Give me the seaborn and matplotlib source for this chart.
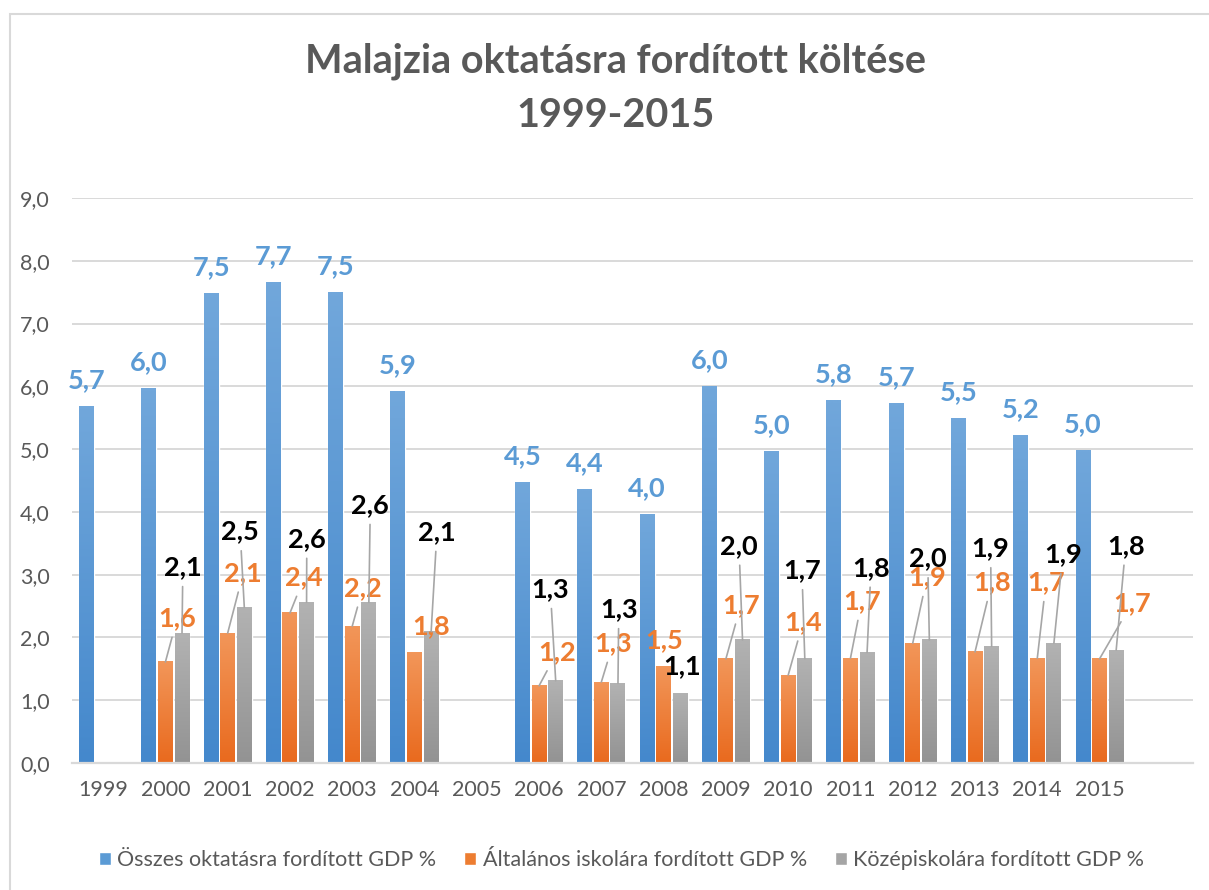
import numpy as np
import pandas as pd
import matplotlib
matplotlib.use('Agg')
import matplotlib.pyplot as plt
import seaborn as sns
from matplotlib.patches import Rectangle
from matplotlib.colors import to_rgb

# Data (GDP %)
years = ['1999', '2000', '2001', '2002', '2003', '2004', '2005', '2006', '2007',
         '2008', '2009', '2010', '2011', '2012', '2013', '2014', '2015']
osszes = [5.68, 5.97, 7.48, 7.66, 7.50, 5.92, np.nan, 4.47, 4.36, 3.96,
          5.99, 4.96, 5.78, 5.73, 5.48, 5.21, 4.97]
altalanos = [np.nan, 1.61, 2.07, 2.39, 2.18, 1.76, np.nan, 1.23, 1.29, 1.53,
             1.66, 1.40, 1.67, 1.91, 1.77, 1.67, 1.66]
kozep = [np.nan, 2.07, 2.48, 2.56, 2.56, 2.09, np.nan, 1.31, 1.27, 1.10,
         1.96, 1.66, 1.76, 1.96, 1.86, 1.91, 1.80]
series_names = ['Összes oktatásra fordított GDP %',
                'Általános iskolára fordított GDP %',
                'Középiskolára fordított GDP %']

# Where the moved data labels sit (x offset from category, y in data units)
alt_lab_dx = [None, .19, .25, .23, .17, .27, None, .29, .19, .01, .24, .24, .18, .23, .27, .14, .52]
alt_lab_y = [None, 2.31, 3.03, 2.96, 2.79, 2.18, None, 1.77, 1.91, 1.96, 2.52, 2.25, 2.58, 2.96, 2.88, 2.88, 2.55]
koz_lab_dx = [None, .28, .20, .27, .29, .36, None, .18, .28, .29, .21, .22, .33, .24, .25, .41, .42]
koz_lab_y = [None, 3.12, 3.69, 3.57, 4.11, 3.68, None, 2.77, 2.45, 1.54, 3.46, 3.07, 3.11, 3.26, 3.42, 3.33, 3.46]

colors = ['#5B9BD5', '#ED7D31', '#A5A5A5']
grad_top = ['#71A7DB', '#F29659', '#B2B2B2']
grad_bottom = ['#4488CC', '#E96A1E', '#939393']
text_gray = '#595959'
grid_gray = '#D9D9D9'

sns.set_theme(style='white')
plt.rcParams['font.family'] = ['Lato', 'DejaVu Sans']

df = pd.DataFrame({
    'ev': years * 3,
    'ertek': osszes + altalanos + kozep,
    'sorozat': [series_names[0]] * 17 + [series_names[1]] * 17 + [series_names[2]] * 17,
})
order = years + ['']

fig = plt.figure(figsize=(12.09, 8.90), dpi=100)
ax = fig.add_axes([72 / 1209, 1 - 763 / 890, (1193 - 72) / 1209, (763 - 198) / 890])

sns.barplot(data=df, x='ev', y='ertek', hue='sorozat', order=order,
            hue_order=series_names, palette=colors, saturation=1,
            width=0.8, gap=0.1, errorbar=None, ax=ax)

# vertical gradient fill on each bar, like the Excel style
for k, cont in enumerate(ax.containers):
    c1, c2 = np.array(to_rgb(grad_bottom[k])), np.array(to_rgb(grad_top[k]))
    t = np.linspace(0, 1, 64)[:, None]
    img = (c1 * (1 - t) + c2 * t)[:, None, :]
    for bar in cont:
        h = bar.get_height()
        if not np.isfinite(h) or h <= 0:
            continue
        x0 = bar.get_x()
        ax.imshow(img, extent=[x0, x0 + bar.get_width(), 0, h], origin='lower',
                  aspect='auto', zorder=bar.get_zorder() + 0.01, interpolation='bilinear')

ax.set_xlim(-0.5, 17.5)
ax.set_ylim(0, 9)
ax.set_yticks(np.arange(0, 10))
ax.set_yticklabels([f'{v:.1f}'.replace('.', ',') for v in np.arange(0, 10)])
ax.set_xlabel('')
ax.set_ylabel('')
ax.yaxis.grid(True, color=grid_gray, lw=1.4)
ax.set_axisbelow(True)
for s in ['left', 'right', 'top']:
    ax.spines[s].set_visible(False)
ax.spines['bottom'].set_color(grid_gray)
ax.spines['bottom'].set_linewidth(1.6)
ax.spines['bottom'].set_zorder(5)
ax.tick_params(axis='both', length=0, labelsize=15.5, labelcolor=text_gray)
ax.tick_params(axis='y', pad=16)
ax.tick_params(axis='x', pad=12)

fmt = lambda v: f'{v:.1f}'.replace('.', ',')
step = 0.8 / 3

# blue labels: default position above the bar
for i, v in enumerate(osszes):
    if np.isnan(v):
        continue
    ax.annotate(fmt(v), xy=(i - step, v), xytext=(0, 19), textcoords='offset points',
                ha='center', va='center', fontsize=19.5, fontweight='bold', color=colors[0])

# orange and gray labels, dragged with leader lines
for vals, dxs, ys, k, col in [(altalanos, alt_lab_dx, alt_lab_y, 0, colors[1]),
                              (kozep, koz_lab_dx, koz_lab_y, 1, 'black')]:
    for i, v in enumerate(vals):
        if np.isnan(v):
            continue
        bx = i + k * step
        lx, ly = i + dxs[i], ys[i]
        arrow = None
        if ly - v > 0.5:
            arrow = dict(arrowstyle='-', color='#A6A6A6', lw=1.2, shrinkA=3, shrinkB=0)
        ax.annotate(fmt(v), xy=(bx, v), xytext=(lx, ly), textcoords='data',
                    ha='center', va='center', fontsize=19.5, fontweight='bold',
                    color=col, arrowprops=arrow, zorder=6)

# legend with small squares
handles, labels = ax.get_legend_handles_labels()
ax.legend(handles, labels, loc='center', bbox_to_anchor=(0.514, 0.034),
          bbox_transform=fig.transFigure, ncol=3, frameon=False,
          handlelength=0.55, handleheight=0.55, handletextpad=0.3, columnspacing=1.3,
          fontsize=15.5, labelcolor=text_gray)

fig.text(0.509, 0.901, 'Malajzia oktatásra fordított költése\n1999-2015',
         ha='center', va='center', fontsize=28.5, fontweight='bold', color=text_gray,
         linespacing=1.55)

# chart border
fig.patches.append(Rectangle((10 / 1209, -0.1), 1.2, 1 - 14 / 890 + 0.1,
                             transform=fig.transFigure, fill=False,
                             edgecolor=grid_gray, lw=1.5))

fig.savefig('out.png', dpi=100)
